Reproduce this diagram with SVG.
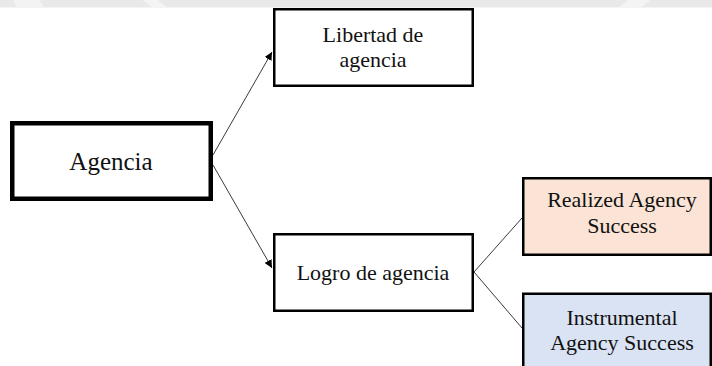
<svg xmlns="http://www.w3.org/2000/svg" width="712" height="366" viewBox="0 0 712 366">
  <style>
    .lbl { font-family: "Liberation Serif", "Times New Roman", serif; font-size: 22px; fill: #111; text-anchor: middle; }
    .box { fill: #ffffff; stroke: #000; stroke-width: 2.5; }
    .con { stroke: #3a3a3a; stroke-width: 1; fill: none; }
  </style>
  <defs>
    <marker id="arrow" viewBox="0 0 10 10" refX="10" refY="5" markerWidth="8" markerHeight="8" markerUnits="userSpaceOnUse" orient="auto">
      <path d="M0,0 L10,5 L0,10 z" fill="#000"/>
    </marker>
  </defs>
  <rect x="0" y="0" width="712" height="366" fill="#ffffff"/>
  <g id="header-band">
    <rect x="0" y="0" width="712" height="7.5" fill="#e9e9e9"/>
    <polygon points="13,0 40,0 44,7.5 17,7.5" fill="#f3f3f3"/>
    <polygon points="143,0 158,0 167,7.5 152,7.5" fill="#f4f4f4"/>
    <polygon points="628,0 650,0 641,7.5 619,7.5" fill="#f4f4f4"/>
  </g>
  <g id="connectors">
    <line class="con" x1="213" y1="155" x2="272" y2="52" marker-end="url(#arrow)"/>
    <line class="con" x1="213" y1="165" x2="272" y2="268" marker-end="url(#arrow)"/>
    <line class="con" x1="474" y1="272" x2="522" y2="218"/>
    <line class="con" x1="474" y1="272" x2="522" y2="328"/>
  </g>
  <g id="agencia">
    <rect x="12.25" y="123.25" width="198.5" height="75.5" fill="#ffffff" stroke="#000" stroke-width="4.5"/>
    <text class="lbl" x="111" y="170" style="font-size:25px">Agencia</text>
  </g>
  <g id="libertad">
    <rect class="box" x="274.25" y="9.25" width="198.5" height="76.5"/>
    <text class="lbl" x="373" y="41.5">Libertad de</text>
    <text class="lbl" x="373" y="66.5">agencia</text>
  </g>
  <g id="logro">
    <rect class="box" x="274.25" y="234.25" width="198.5" height="76.5"/>
    <text class="lbl" x="373" y="280">Logro de agencia</text>
  </g>
  <g id="realized">
    <rect x="523.25" y="178.25" width="187.5" height="76.5" fill="#fbe4d5" stroke="#000" stroke-width="2.5"/>
    <text class="lbl" x="622" y="207">Realized Agency</text>
    <text class="lbl" x="622" y="233">Success</text>
  </g>
  <g id="instrumental">
    <path d="M523.25,367 V293.75 H710.75 V367" fill="#dae3f3" stroke="#000" stroke-width="2.5"/>
    <text class="lbl" x="622" y="325">Instrumental</text>
    <text class="lbl" x="622" y="350">Agency Success</text>
  </g>
</svg>
